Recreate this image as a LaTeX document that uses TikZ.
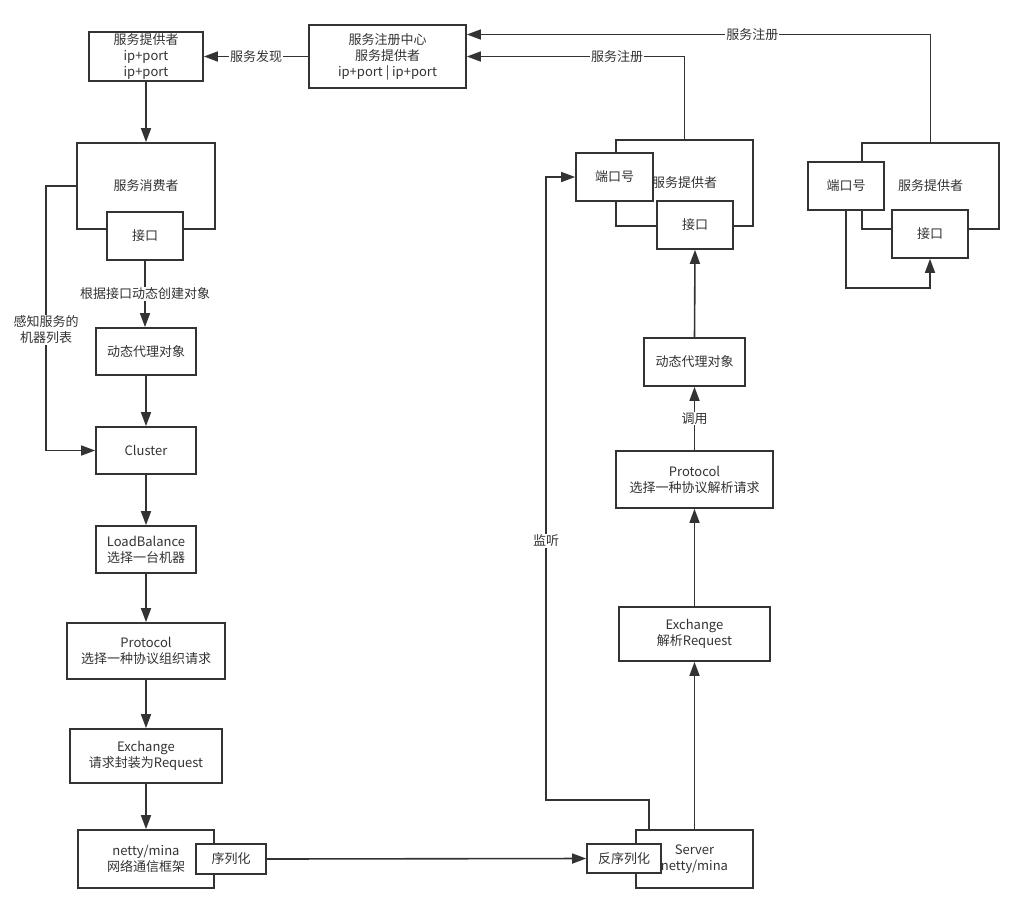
\documentclass[tikz,border=0pt]{standalone}
\usepackage{fontspec}
\setmainfont{Noto Sans CJK SC}
\usetikzlibrary{arrows.meta,calc}
\definecolor{ink}{HTML}{333333}
\tikzset{
  box/.style={draw=ink, line width=1.7pt, fill=white, text=ink, align=center, inner sep=0pt, font=\fontsize{13}{16}\selectfont},
  arr/.style={draw=ink, line width=1.6pt, -{Triangle[length=14pt,width=10pt]}},
  ln/.style={draw=ink, line width=1.6pt},
  lbl/.style={fill=white, text=ink, inner sep=1pt, font=\fontsize{13}{16}\selectfont, align=center}
}
\begin{document}
\begin{tikzpicture}[x=1pt,y=-1pt]
\useasboundingbox[fill=white] (0,0) rectangle (1024,913);

% ---- left column ----
\node[box, minimum width=114pt, minimum height=49pt] (prov1) at (146,56.5) {服务提供者\\ip+port\\ip+port};
\node[box, minimum width=157pt, minimum height=63pt] (reg) at (387.5,56.5) {服务注册中心\\服务提供者\\ip+port | ip+port};
\node[box, minimum width=138pt, minimum height=86pt] (cons) at (146,186) {服务消费者};
\node[box, minimum width=76pt, minimum height=48pt] (if1) at (145,236) {接口};
\node[box, minimum width=100pt, minimum height=47pt] (proxy1) at (146,351.5) {动态代理对象};
\node[box, minimum width=100pt, minimum height=47pt] (cluster) at (146,450.5) {Cluster};
\node[box, minimum width=100pt, minimum height=47pt] (lb) at (146,549.5) {LoadBalance\\选择一台机器};
\node[box, minimum width=158pt, minimum height=56pt] (proto1) at (146,651) {Protocol\\选择一种协议组织请求};
\node[box, minimum width=152pt, minimum height=54pt] (exch1) at (146,756) {Exchange\\请求封装为Request};
\node[box, minimum width=136pt, minimum height=58pt] (netty) at (146,859) {netty/mina\\网络通信框架};
\node[box, minimum width=70pt, minimum height=30pt] (ser) at (231,859) {序列化};

% ---- right column ----
\node[box, minimum width=117pt, minimum height=58pt] (server) at (694.5,859) {Server\\netty/mina};
\node[box, minimum width=74pt, minimum height=29pt] (deser) at (624,858.5) {反序列化};
\node[box, minimum width=151pt, minimum height=54pt] (exch2) at (694.5,634) {Exchange\\解析Request};
\node[box, minimum width=157pt, minimum height=57pt] (proto2) at (694.5,479.5) {Protocol\\选择一种协议解析请求};
\node[box, minimum width=101pt, minimum height=48pt] (proxy2) at (694.5,362) {动态代理对象};
\node[box, minimum width=137pt, minimum height=86pt] (prov2) at (684.5,183) {服务提供者};
\node[box, minimum width=77pt, minimum height=48pt] (port2) at (614.5,177) {端口号};
\node[box, minimum width=76pt, minimum height=48pt] (if2) at (695,225) {接口};

% ---- far right ----
\node[box, minimum width=137pt, minimum height=86pt] (prov3) at (930.5,186) {服务提供者};
\node[box, minimum width=76pt, minimum height=48pt] (port3) at (846,186) {端口号};
\node[box, minimum width=76pt, minimum height=48pt] (if3) at (930,234) {接口};

% ---- connectors ----
\draw[arr] (reg.west) -- node[lbl]{服务发现} (prov1.east);
\draw[arr] (prov1.south) -- (cons.north);
\draw[arr] (if1.south) -- node[lbl]{根据接口动态创建对象} (if1.south |- proxy1.north);
\draw[arr] (cons.west) -- ++(-30,0) |- node[lbl, pos=0.272]{感知服务的\\机器列表} (cluster.west);
\draw[arr] (proxy1) -- (cluster);
\draw[arr] (cluster) -- (lb);
\draw[arr] (lb) -- (proto1);
\draw[arr] (proto1) -- (exch1);
\draw[arr] (exch1) -- (netty);
\draw[arr] (ser.east) -- (deser.west);

\coordinate (lsn1) at (546,800);
\draw[arr] ([xshift=14pt]server.north west) |- (lsn1) |- (port2.west);
\node[lbl] (lsnlbl) at (546,541) {监听};

\draw[arr] (server.north) -- (exch2.south);
\draw[arr] (exch2.north) -- (proto2.south);
\draw[arr] (proto2.north) -- node[lbl]{调用} (proxy2.south);
\draw[arr] (proxy2.north) -- (if2.south);

\draw[arr] (prov2.north) |- node[lbl, pos=0.655]{服务注册} (reg.east);
\draw[arr] (prov3.north) |- node[lbl, pos=0.692]{服务注册} ([yshift=22pt]reg.east);
\draw[arr] (port3.south) -- ++(0,77) -| (if3.south);

% redraw overlapping boxes on top
\node[box, minimum width=70pt, minimum height=30pt] at (ser) {序列化};
\node[box, minimum width=74pt, minimum height=29pt] at (deser) {反序列化};
\end{tikzpicture}
\end{document}
